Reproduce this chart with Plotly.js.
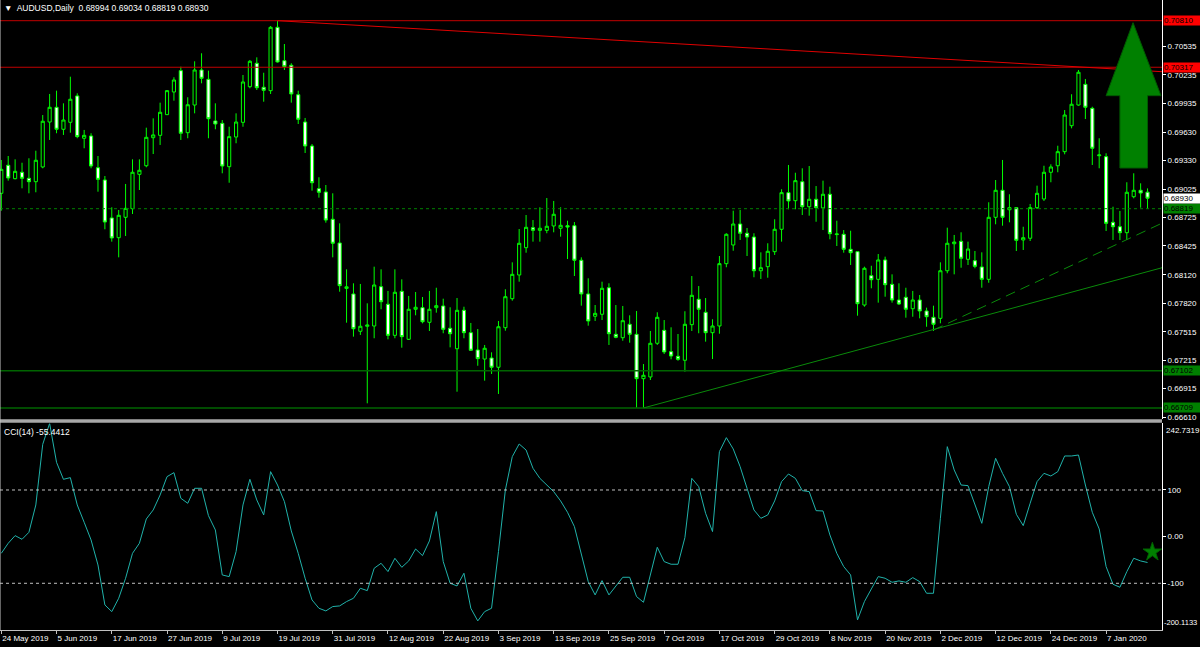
<!DOCTYPE html>
<html>
<head>
<meta charset="utf-8">
<script src="https://cdn.plot.ly/plotly-3.0.1.min.js"></script>
<style>
html,body{margin:0;padding:0;background:#000;}
#chart{width:1200px;height:647px;}
</style>
</head>
<body>
<div id="chart"></div>
<script>
// ---- data (daily AUDUSD bars, index = bar number) ----
const opens = [0.68982,0.69279,0.69137,0.69205,0.69141,0.69105,0.69261,0.69737,0.69893,0.69660,
0.69734,0.70013,0.69565,0.69589,0.69253,0.69123,0.68721,0.68512,0.68728,0.68819,
0.69183,0.69274,0.69571,0.69596,0.69815,0.70055,0.70281,0.69624,0.69917,0.70288,
0.70189,0.69748,0.69723,0.69264,0.69578,0.69734,0.70111,0.70359,0.70105,0.70069,
0.70740,0.70386,0.70338,0.70026,0.69737,0.69483,0.69031,0.68996,0.68707,0.68456,
0.67975,0.67916,0.67521,0.67574,0.67577,0.67993,0.67807,0.67478,0.67944,0.67436,
0.67754,0.67771,0.67616,0.67771,0.67789,0.67553,0.67336,0.67743,0.67506,0.67323,
0.67227,0.67238,0.67140,0.67559,0.67866,0.68117,0.68406,0.68618,0.68590,0.68590,
0.68636,0.68612,0.68639,0.68639,0.68273,0.67916,0.67680,0.67701,0.67982,0.67489,
0.67453,0.67595,0.67489,0.67019,0.67037,0.67394,0.67531,0.67305,0.67256,0.67214,
0.67591,0.67860,0.67722,0.67506,0.67577,0.68237,0.68435,0.68657,0.68559,0.68519,
0.68162,0.68205,0.68364,0.68601,0.68989,0.68904,0.69105,0.68840,0.68919,0.68827,
0.68972,0.68545,0.68548,0.68389,0.68364,0.67799,0.68110,0.68071,0.68276,0.68018,
0.67852,0.67881,0.67760,0.67852,0.67736,0.67669,0.67658,0.68162,0.68448,0.68474,
0.68283,0.68268,0.68202,0.68071,0.68728,0.69014,0.68808,0.68830,0.68488,0.68506,
0.68830,0.68922,0.69205,0.69274,0.69423,0.69698,0.69917,0.70136,0.69882,0.69380,
0.69370,0.68675,0.68628,0.68565,0.68946,0.69014,0.68994];
const highs = [0.69335,0.69377,0.69342,0.69306,0.69353,0.69433,0.69811,0.70034,0.70069,0.69935,
0.70217,0.70041,0.69653,0.69618,0.69377,0.69165,0.68834,0.68805,0.69081,0.69342,
0.69342,0.69677,0.69776,0.69942,0.70076,0.70211,0.70323,0.69999,0.70380,0.70465,
0.70281,0.69935,0.69758,0.69687,0.69829,0.70235,0.70394,0.70422,0.70259,0.70754,
0.70810,0.70563,0.70359,0.70069,0.69780,0.69504,0.69152,0.69070,0.68982,0.68664,
0.68177,0.68029,0.68022,0.67817,0.68205,0.68177,0.67948,0.68177,0.68071,0.67895,
0.67937,0.67884,0.67948,0.67982,0.67866,0.67775,0.67873,0.67781,0.67609,0.67545,
0.67376,0.67298,0.67630,0.67966,0.68251,0.68604,0.68752,0.68699,0.68834,0.68932,
0.68901,0.68834,0.68692,0.68678,0.68304,0.68082,0.67799,0.68046,0.68029,0.67799,
0.67789,0.67690,0.67736,0.67174,0.67524,0.67722,0.67640,0.67563,0.67492,0.67733,
0.68106,0.68000,0.67873,0.67648,0.68318,0.68559,0.68798,0.68805,0.68615,0.68559,
0.68357,0.68453,0.68707,0.69025,0.69282,0.69200,0.69247,0.69271,0.69059,0.69116,
0.69052,0.68692,0.68593,0.68586,0.68364,0.68205,0.68215,0.68339,0.68311,0.68124,
0.68029,0.67982,0.67948,0.67905,0.67771,0.67792,0.68251,0.68618,0.68541,0.68569,
0.68470,0.68371,0.68357,0.68887,0.69123,0.69335,0.68972,0.68830,0.68628,0.68869,
0.69063,0.69274,0.69289,0.69486,0.69864,0.70031,0.70288,0.70193,0.69899,0.69565,
0.69406,0.68840,0.68795,0.69099,0.69194,0.69088,0.69034];
const lows = [0.68798,0.69116,0.69130,0.69035,0.68982,0.68993,0.69247,0.69547,0.69618,0.69600,
0.69624,0.69565,0.69459,0.69247,0.68999,0.68601,0.68470,0.68304,0.68530,0.68763,
0.69017,0.69258,0.69398,0.69494,0.69811,0.69963,0.69547,0.69565,0.69829,0.70147,
0.69565,0.69660,0.69194,0.69094,0.69512,0.69687,0.70094,0.70076,0.69952,0.70034,
0.70366,0.70288,0.69942,0.69716,0.69409,0.69010,0.68936,0.68671,0.68304,0.67940,
0.67612,0.67464,0.67482,0.66758,0.67447,0.67754,0.67436,0.67447,0.67347,0.67429,
0.67690,0.67605,0.67524,0.67718,0.67500,0.67351,0.66881,0.67447,0.67312,0.67156,
0.66998,0.67069,0.66857,0.67527,0.67845,0.68046,0.68353,0.68470,0.68470,0.68559,
0.68569,0.68523,0.68286,0.68106,0.67792,0.67580,0.67630,0.67640,0.67376,0.67447,
0.67421,0.67400,0.66711,0.66709,0.67005,0.67376,0.67280,0.67224,0.67209,0.67093,
0.67524,0.67500,0.67411,0.67227,0.67495,0.68199,0.68374,0.68488,0.68318,0.68093,
0.68075,0.68088,0.68329,0.68470,0.68813,0.68813,0.68752,0.68745,0.68681,0.68593,
0.68495,0.68424,0.68353,0.68223,0.67686,0.67781,0.67976,0.67824,0.67887,0.67824,
0.67799,0.67665,0.67675,0.67658,0.67569,0.67524,0.67605,0.68135,0.68124,0.68194,
0.68223,0.68188,0.67982,0.68035,0.68654,0.68639,0.68675,0.68371,0.68382,0.68477,
0.68816,0.68901,0.69099,0.69205,0.69395,0.69670,0.69910,0.69769,0.69282,0.69247,
0.68583,0.68488,0.68488,0.68488,0.68929,0.68830,0.68819];
const closes = [0.69236,0.69144,0.69215,0.69141,0.69105,0.69332,0.69745,0.69893,0.69660,0.69758,
0.69978,0.69582,0.69596,0.69271,0.69130,0.68678,0.68509,0.68749,0.68823,0.69205,
0.69226,0.69575,0.69600,0.69840,0.70069,0.70182,0.69618,0.69920,0.70288,0.70200,
0.69772,0.69716,0.69271,0.69582,0.69737,0.70161,0.70380,0.70100,0.70073,0.70740,
0.70373,0.70323,0.70034,0.69766,0.69483,0.69094,0.68993,0.68699,0.68453,0.68004,
0.67992,0.67548,0.67574,0.67587,0.68011,0.67834,0.67478,0.67934,0.67464,0.67754,
0.67775,0.67622,0.67754,0.67792,0.67542,0.67495,0.67743,0.67506,0.67320,0.67231,
0.67341,0.67140,0.67569,0.67887,0.68124,0.68453,0.68622,0.68590,0.68612,0.68633,
0.68760,0.68643,0.68625,0.68273,0.67916,0.67630,0.67711,0.67976,0.67495,0.67457,
0.67633,0.67489,0.67019,0.67055,0.67394,0.67669,0.67302,0.67259,0.67224,0.67595,
0.67902,0.67754,0.67506,0.67577,0.68237,0.68548,0.68657,0.68559,0.68519,0.68162,
0.68194,0.68368,0.68601,0.68989,0.68901,0.69116,0.68840,0.68919,0.68830,0.68972,
0.68554,0.68551,0.68389,0.68353,0.67813,0.68188,0.68067,0.68276,0.68014,0.67852,
0.67810,0.67754,0.67852,0.67736,0.67675,0.67595,0.68162,0.68453,0.68466,0.68294,
0.68392,0.68209,0.68071,0.68728,0.69014,0.68728,0.68830,0.68484,0.68512,0.68830,
0.68982,0.69205,0.69261,0.69423,0.69811,0.69925,0.70264,0.69893,0.69459,0.69388,
0.68664,0.68628,0.68565,0.68993,0.69014,0.68985,0.68930];
const cci14 = [-35.7,-14.2,2.2,-5.7,9.3,67.9,197.9,242.7,159.3,122.9,
126.5,67.9,30.8,-7.1,-60.7,-146.4,-160.7,-132.1,-89.2,-35.7,
-14.2,37.9,57.2,89.3,128.6,137.2,82.2,71.5,103.6,103.6,
45.0,14.3,-82.1,-85.7,-32.1,67.9,122.9,78.6,46.5,139.3,
110.7,75.0,12.2,-35.7,-89.2,-135.7,-153.5,-159.2,-149.9,-148.5,
-139.2,-132.1,-110.7,-115.7,-67.8,-57.1,-74.9,-46.4,-65.7,-52.1,
-26.4,-40.7,-9.2,53.6,-53.5,-99.9,-105.7,-78.5,-153.5,-180.6,
-160.7,-153.5,-32.1,100.0,171.5,198.6,185.7,146.5,125.0,110.7,
96.5,76.5,52.2,21.5,-35.7,-96.4,-124.9,-94.2,-124.9,-107.1,
-87.1,-87.1,-128.5,-140.7,-82.1,-22.8,-53.5,-59.2,-59.2,-2.1,
125.0,107.2,50.0,10.8,182.2,212.2,187.9,150.0,103.6,57.2,
39.3,46.5,76.5,117.9,134.3,125.0,98.6,96.5,55.7,55.0,
3.6,-35.7,-64.2,-82.1,-178.5,-139.2,-112.1,-85.7,-89.2,-97.8,
-94.9,-97.8,-87.8,-96.4,-121.4,-121.4,39.3,192.9,142.9,110.7,
109.3,67.9,28.6,107.2,167.9,135.7,107.2,47.9,23.6,71.5,
117.9,135.7,130.0,139.3,172.9,172.9,175.0,110.7,52.2,16.5,
-64.2,-102.1,-108.5,-75.0,-46.4,-52.1,-55.4412];

const dateTickBars = [0,8,16,24,32,40,48,56,64,72,80,88,96,104,112,120,128,136,144,152,160];
const dateTickLabels = ['24 May 2019','5 Jun 2019','17 Jun 2019','27 Jun 2019','9 Jul 2019','19 Jul 2019',
 '31 Jul 2019','12 Aug 2019','22 Aug 2019','3 Sep 2019','13 Sep 2019','25 Sep 2019','7 Oct 2019',
 '17 Oct 2019','29 Oct 2019','8 Nov 2019','20 Nov 2019','2 Dec 2019','12 Dec 2019','24 Dec 2019','7 Jan 2020'];
const priceTicks = [0.70535,0.70235,0.69935,0.69630,0.69330,0.69025,0.68725,0.68425,0.68120,0.67820,0.67515,0.67215,0.66915,0.66610];
const cciTicks = [100,0,-100];
const cciTickLabels = ['100','0.00','-100'];
const cciMax = 242.7319, cciMin = -200.1133;
const cciLevels = [100,-100];

const resistanceLevels = [0.70810,0.70317];
const supportLevels = [0.67102,0.66709];
const dottedLevel = 0.68819;
const lastPrice = 0.68930;
const header = {symbol:'AUDUSD,Daily', o:0.68994, h:0.69034, l:0.68819, c:0.68930};
// trend lines: [bar, price] anchors
const redTrend = [[40,0.70810],[168.1,0.70270]];
const greenTrend = [[93,0.66709],[168.1,0.68194]];
const dashTrend = [[135,0.67534],[168.1,0.68666]];
// arrow object (bar, price)
const arrowTip = [163.9,0.70789];
const arrowHead = [160.0,167.95,0.70016];
const arrowShaft = [162.0,166.0,0.69250];
const starMark = [166.7,-33];

// ---- build ----
const FONT = 'Liberation Sans, Arial, sans-serif';
const bars = closes.map((_,i)=>i);
const barPx = 6.905, plotW = 1162;
const x0 = -1.3/barPx, x1 = x0 + plotW/barPx;
const mainBotPx = 419, plotH = 630;
const pxPerPrice = 9443;
const yMax = 0.66610 + 417.3/pxPerPrice, yMin = 0.66610 - 1.7/pxPerPrice;

const traces = [
 {type:'candlestick', x:bars, open:opens, high:highs, low:lows, close:closes,
  xaxis:'x', yaxis:'y', whiskerwidth:0,
  increasing:{line:{color:'#00ff00',width:1}, fillcolor:'#000000'},
  decreasing:{line:{color:'#00ff00',width:1}, fillcolor:'#ffffff'},
  hoverinfo:'skip'},
 {type:'scatter', mode:'lines', x:bars, y:cci14, xaxis:'x', yaxis:'y2',
  line:{color:'#20b2aa',width:1}, hoverinfo:'skip'},
 {type:'scatter', mode:'markers', x:[starMark[0]], y:[starMark[1]], xaxis:'x', yaxis:'y2',
  marker:{symbol:'star', size:14, color:'#008000', line:{color:'#006000',width:1}}, hoverinfo:'skip', cliponaxis:false}
];

const shapes = [];
resistanceLevels.forEach(p=>shapes.push({type:'line',xref:'paper',x0:0,x1:1,yref:'y',y0:p,y1:p,line:{color:'#c00000',width:1}}));
supportLevels.forEach(p=>shapes.push({type:'line',xref:'paper',x0:0,x1:1,yref:'y',y0:p,y1:p,line:{color:'#006400',width:1.5}}));
shapes.push({type:'line',xref:'paper',x0:0,x1:1,yref:'y',y0:dottedLevel,y1:dottedLevel,line:{color:'#008000',width:1,dash:'3px,3px'}});
shapes.push({type:'line',xref:'x',yref:'y',x0:redTrend[0][0],y0:redTrend[0][1],x1:redTrend[1][0],y1:redTrend[1][1],line:{color:'#e00000',width:1}});
shapes.push({type:'line',xref:'x',yref:'y',x0:greenTrend[0][0],y0:greenTrend[0][1],x1:greenTrend[1][0],y1:greenTrend[1][1],line:{color:'#0a8a0a',width:1}});
shapes.push({type:'line',xref:'x',yref:'y',x0:dashTrend[0][0],y0:dashTrend[0][1],x1:dashTrend[1][0],y1:dashTrend[1][1],line:{color:'#0a8a0a',width:1,dash:'10px,6px'}});
cciLevels.forEach(v=>shapes.push({type:'line',xref:'paper',x0:0,x1:1,yref:'y2',y0:v,y1:v,line:{color:'#c0c0c0',width:1,dash:'3px,3px'}}));
// arrow
const ap = `M ${arrowTip[0]},${arrowTip[1]} L ${arrowHead[1]},${arrowHead[2]} L ${arrowShaft[1]},${arrowHead[2]} L ${arrowShaft[1]},${arrowShaft[2]} L ${arrowShaft[0]},${arrowShaft[2]} L ${arrowShaft[0]},${arrowHead[2]} L ${arrowHead[0]},${arrowHead[2]} Z`;
shapes.push({type:'path',xref:'x',yref:'y',path:ap,fillcolor:'#008000',line:{color:'#005a00',width:1},layer:'above'});
// panel separator
shapes.push({type:'rect',xref:'paper',yref:'paper',x0:0,x1:1,y0:1-422.7/plotH,y1:1-419.3/plotH,fillcolor:'#a8a8a8',line:{width:0}});
// left border
shapes.push({type:'line',xref:'paper',yref:'paper',x0:0,x1:0,y0:0,y1:1,line:{color:'#c8c8c8',width:1}});

function priceLabel(p,bg,fg){
 return {xref:'paper',x:1,xanchor:'left',xshift:1,yref:'y',y:p,yanchor:'middle',text:p.toFixed(5),
  showarrow:false,bgcolor:bg,borderpad:0,width:36,align:'left',font:{family:FONT,size:8,color:fg}};
}
const annotations = [];
resistanceLevels.forEach(p=>annotations.push(priceLabel(p,'#ff0000','#000000')));
supportLevels.forEach(p=>annotations.push(priceLabel(p,'#008000','#000000')));
annotations.push(priceLabel(dottedLevel,'#008000','#000000'));
annotations.push(priceLabel(lastPrice,'#ffffff','#000000'));
annotations.push({xref:'paper',yref:'y2',x:1,xanchor:'left',xshift:2,y:cciMax,yanchor:'top',yshift:-1,text:cciMax.toFixed(4),showarrow:false,font:{family:FONT,size:8,color:'#ffffff'}});
annotations.push({xref:'paper',yref:'y2',x:1,xanchor:'left',xshift:0,y:cciMin,yanchor:'bottom',yshift:1,text:cciMin.toFixed(4),showarrow:false,font:{family:FONT,size:7.5,color:'#ffffff'}});
annotations.push({xref:'paper',yref:'paper',x:0,y:1,xanchor:'left',yanchor:'top',xshift:2,yshift:-1,
 text:'▼  '+header.symbol+'  '+[header.o,header.h,header.l,header.c].map(v=>v.toFixed(5)).join(' '),
 showarrow:false,font:{family:FONT,size:8.5,color:'#ffffff'}});
annotations.push({xref:'paper',yref:'paper',x:0,y:1-423.5/plotH,xanchor:'left',yanchor:'top',xshift:2,yshift:-1,
 text:'CCI(14) '+cci14[cci14.length-1].toFixed(4),showarrow:false,font:{family:FONT,size:8.5,color:'#ffffff'}});

const layout = {
 width:1200, height:647,
 margin:{l:0,r:38,t:0,b:17,pad:0},
 paper_bgcolor:'#000000', plot_bgcolor:'#000000',
 showlegend:false, hovermode:false,
 boxgap:0.35,
 xaxis:{range:[x0,x1], anchor:'y2', tickmode:'array', tickvals:dateTickBars, ticktext:dateTickLabels,
  ticks:'outside', ticklen:3, tickcolor:'#c0c0c0', ticklabelposition:'outside right',
  tickfont:{family:FONT,size:8,color:'#ffffff'}, showgrid:false, zeroline:false,
  showline:true, linecolor:'#c0c0c0', linewidth:1, rangeslider:{visible:false}, fixedrange:true},
 yaxis:{domain:[1-mainBotPx/plotH,1], range:[yMin,yMax], side:'right', anchor:'x',
  tickmode:'array', tickvals:priceTicks, ticktext:priceTicks.map(v=>v.toFixed(5)),
  ticks:'outside', ticklen:3, tickcolor:'#ffffff', tickfont:{family:FONT,size:8,color:'#ffffff'},
  showgrid:false, zeroline:false, showline:true, linecolor:'#ffffff', fixedrange:true},
 yaxis2:{domain:[0,1-423.4/plotH], range:[cciMin,cciMax], side:'right', anchor:'x',
  tickmode:'array', tickvals:cciTicks, ticktext:cciTickLabels,
  ticks:'outside', ticklen:3, tickcolor:'#ffffff', tickfont:{family:FONT,size:8,color:'#ffffff'},
  showgrid:false, zeroline:false, showline:true, linecolor:'#ffffff', fixedrange:true},
 shapes:shapes, annotations:annotations
};

Plotly.newPlot('chart', traces, layout, {displayModeBar:false, staticPlot:true});
</script>
</body>
</html>
